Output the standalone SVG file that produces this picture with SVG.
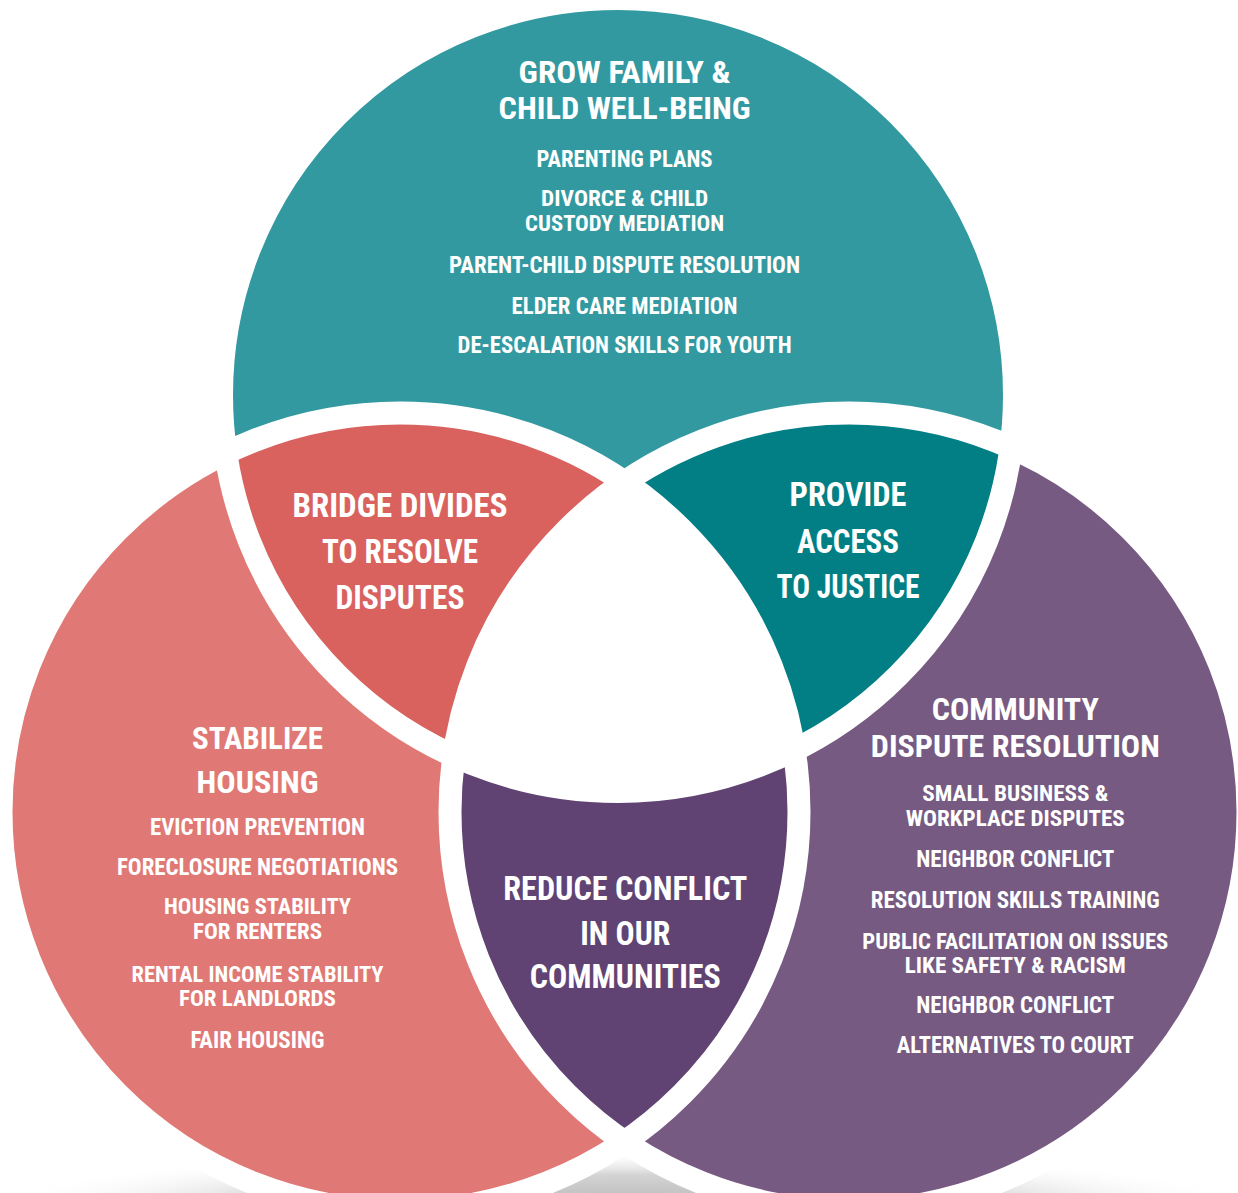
<svg xmlns="http://www.w3.org/2000/svg" width="1238" height="1193" viewBox="0 0 1238 1193">
<defs>
<style>
text{font-family:"Liberation Sans Narrow","Roboto Condensed","DejaVu Sans Condensed","Liberation Sans",sans-serif;font-stretch:condensed;font-weight:bold;fill:#ffffff;text-anchor:middle}
.h{font-size:32px}
.s{font-size:24px}
.p{font-size:21.5px}
.l{font-size:33px}
.band{fill:none;stroke:#ffffff;stroke-width:23}
</style>
<clipPath id="cT"><circle cx="618" cy="395" r="396.5"/></clipPath>
<clipPath id="cL"><circle cx="400" cy="812" r="399"/></clipPath>
<clipPath id="cR"><circle cx="849" cy="812" r="399"/></clipPath>
<radialGradient id="shadow" cx="0.5" cy="0.5" r="0.5">
<stop offset="0" stop-color="#b8b8b8"/>
<stop offset="0.55" stop-color="#d4d4d4"/>
<stop offset="1" stop-color="#ffffff" stop-opacity="0"/>
</radialGradient>
</defs>
<rect width="1238" height="1193" fill="#ffffff"/>
<ellipse cx="625" cy="1205" rx="640" ry="55" fill="url(#shadow)"/>

<g id="circle-family">
<circle cx="618" cy="395" r="396.5" fill="#3399a0"/>
</g>
<g id="circle-housing">
<circle cx="400" cy="812" r="399" fill="#e07975"/>
</g>
<g id="circle-community">
<circle cx="849" cy="812" r="399" fill="#765a82"/>
</g>
<g id="lens-bridge">
<circle cx="400" cy="812" r="399" fill="#d9625f" clip-path="url(#cT)"/>
</g>
<g id="lens-justice">
<circle cx="849" cy="812" r="399" fill="#017f84" clip-path="url(#cT)"/>
</g>
<g id="lens-reduce">
<circle cx="849" cy="812" r="399" fill="#604373" clip-path="url(#cL)"/>
</g>
<g id="center">
<g clip-path="url(#cT)">
<circle cx="849" cy="812" r="399" fill="#ffffff" clip-path="url(#cL)"/>
</g>
</g>
<g id="outlines">
<circle class="band" cx="618" cy="395" r="396.5"/>
<circle class="band" cx="400" cy="812" r="399"/>
<circle class="band" cx="849" cy="812" r="399"/>
</g>

<g id="text-family">
<text class="h" x="624.6" y="82.7" textLength="212" lengthAdjust="spacingAndGlyphs">GROW FAMILY &amp;</text>
<text class="h" x="624.6" y="119.3" textLength="252" lengthAdjust="spacingAndGlyphs">CHILD WELL-BEING</text>
<text class="s" x="624.6" y="166.7" textLength="176" lengthAdjust="spacingAndGlyphs">PARENTING PLANS</text>
<text class="p" x="624.6" y="206" textLength="167" lengthAdjust="spacingAndGlyphs">DIVORCE &amp; CHILD</text>
<text class="p" x="624.6" y="231.2" textLength="199" lengthAdjust="spacingAndGlyphs">CUSTODY MEDIATION</text>
<text class="s" x="624.6" y="273.3" textLength="351" lengthAdjust="spacingAndGlyphs">PARENT-CHILD DISPUTE RESOLUTION</text>
<text class="s" x="624.6" y="314" textLength="226" lengthAdjust="spacingAndGlyphs">ELDER CARE MEDIATION</text>
<text class="s" x="624.6" y="353.3" textLength="334" lengthAdjust="spacingAndGlyphs">DE-ESCALATION SKILLS FOR YOUTH</text>
</g>

<g id="text-housing">
<text class="h" x="257.5" y="749.3" textLength="131" lengthAdjust="spacingAndGlyphs">STABILIZE</text>
<text class="h" x="257.5" y="792.7" textLength="122" lengthAdjust="spacingAndGlyphs">HOUSING</text>
<text class="s" x="257.5" y="835" textLength="215" lengthAdjust="spacingAndGlyphs">EVICTION PREVENTION</text>
<text class="s" x="257.5" y="875" textLength="281" lengthAdjust="spacingAndGlyphs">FORECLOSURE NEGOTIATIONS</text>
<text class="p" x="257.5" y="914.3" textLength="187" lengthAdjust="spacingAndGlyphs">HOUSING STABILITY</text>
<text class="p" x="257.5" y="939" textLength="129" lengthAdjust="spacingAndGlyphs">FOR RENTERS</text>
<text class="p" x="257.5" y="981.6" textLength="252" lengthAdjust="spacingAndGlyphs">RENTAL INCOME STABILITY</text>
<text class="p" x="257.5" y="1006.4" textLength="157" lengthAdjust="spacingAndGlyphs">FOR LANDLORDS</text>
<text class="s" x="257.5" y="1048.3" textLength="134" lengthAdjust="spacingAndGlyphs">FAIR HOUSING</text>
</g>

<g id="text-community">
<text class="h" x="1015.3" y="720" textLength="167" lengthAdjust="spacingAndGlyphs">COMMUNITY</text>
<text class="h" x="1015.3" y="757.3" textLength="289" lengthAdjust="spacingAndGlyphs">DISPUTE RESOLUTION</text>
<text class="p" x="1015.3" y="801" textLength="186" lengthAdjust="spacingAndGlyphs">SMALL BUSINESS &amp;</text>
<text class="p" x="1015.3" y="825.7" textLength="219" lengthAdjust="spacingAndGlyphs">WORKPLACE DISPUTES</text>
<text class="s" x="1015.3" y="867.3" textLength="198" lengthAdjust="spacingAndGlyphs">NEIGHBOR CONFLICT</text>
<text class="s" x="1015.3" y="908.3" textLength="289" lengthAdjust="spacingAndGlyphs">RESOLUTION SKILLS TRAINING</text>
<text class="p" x="1015.3" y="948.6" textLength="306" lengthAdjust="spacingAndGlyphs">PUBLIC FACILITATION ON ISSUES</text>
<text class="p" x="1015.3" y="973" textLength="221" lengthAdjust="spacingAndGlyphs">LIKE SAFETY &amp; RACISM</text>
<text class="s" x="1015.3" y="1012.7" textLength="198" lengthAdjust="spacingAndGlyphs">NEIGHBOR CONFLICT</text>
<text class="s" x="1015.3" y="1053.3" textLength="237" lengthAdjust="spacingAndGlyphs">ALTERNATIVES TO COURT</text>
</g>

<g id="text-bridge">
<text class="l" x="400" y="517.3" textLength="215" lengthAdjust="spacingAndGlyphs">BRIDGE DIVIDES</text>
<text class="l" x="400" y="563.3" textLength="156" lengthAdjust="spacingAndGlyphs">TO RESOLVE</text>
<text class="l" x="400" y="609.3" textLength="129" lengthAdjust="spacingAndGlyphs">DISPUTES</text>
</g>

<g id="text-justice">
<text class="l" x="848" y="506" textLength="117" lengthAdjust="spacingAndGlyphs">PROVIDE</text>
<text class="l" x="848" y="552.7" textLength="102" lengthAdjust="spacingAndGlyphs">ACCESS</text>
<text class="l" x="848" y="598.3" textLength="143" lengthAdjust="spacingAndGlyphs">TO JUSTICE</text>
</g>

<g id="text-reduce">
<text class="l" x="625.3" y="900" textLength="244" lengthAdjust="spacingAndGlyphs">REDUCE CONFLICT</text>
<text class="l" x="625.3" y="945" textLength="90" lengthAdjust="spacingAndGlyphs">IN OUR</text>
<text class="l" x="625.3" y="988.3" textLength="191" lengthAdjust="spacingAndGlyphs">COMMUNITIES</text>
</g>
</svg>
